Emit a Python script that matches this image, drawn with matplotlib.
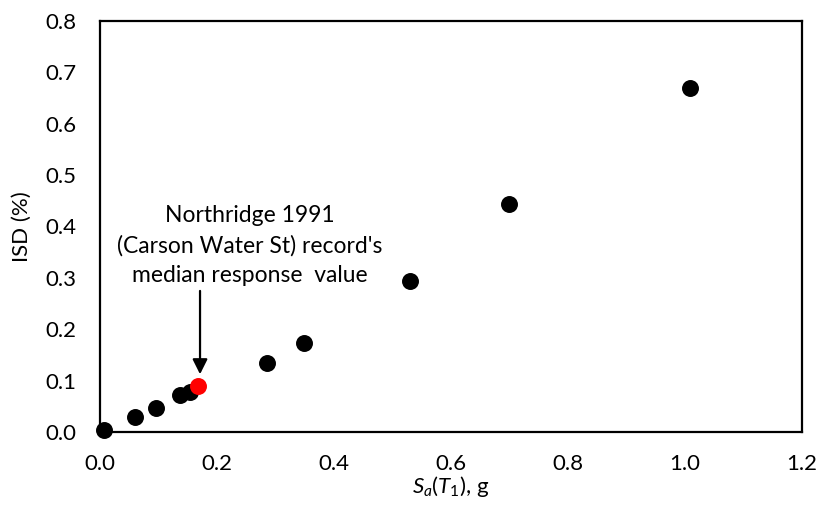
import matplotlib.pyplot as plt

plt.rcParams['font.family'] = ['Lato', 'DejaVu Sans']
plt.rcParams['mathtext.fontset'] = 'custom'
plt.rcParams['mathtext.rm'] = 'Lato'
plt.rcParams['mathtext.it'] = 'Lato:italic'

# Data
sa = [0.006, 0.060, 0.095, 0.136, 0.153, 0.285, 0.348, 0.530, 0.699, 1.009]
isd = [0.003, 0.030, 0.047, 0.072, 0.077, 0.135, 0.174, 0.294, 0.443, 0.669]
median_sa = [0.167]
median_isd = [0.0895]

note = "Northridge 1991\n(Carson Water St) record's\nmedian response  value"

fig = plt.figure(figsize=(8.19, 5.05), dpi=100)
ax = fig.add_axes([0.1221, 0.1446, 0.8571, 0.8138])

ax.scatter(sa, isd, s=125, color='black', zorder=3, clip_on=False)
ax.scatter(median_sa, median_isd, s=125, color='#ff0000', zorder=4)

# Arrow and note
ax.annotate('', xy=(0.171, 0.107), xytext=(0.171, 0.280),
            arrowprops=dict(arrowstyle='-|>,head_length=0.9,head_width=0.45',
                            color='black', lw=1.6))
ax.text(0.256, 0.284, note, ha='center', va='bottom', multialignment='center',
        fontsize=16.5, linespacing=1.5)

ax.set_xlim(0, 1.2)
ax.set_ylim(0, 0.8)
ax.set_xticks([0.0, 0.2, 0.4, 0.6, 0.8, 1.0, 1.2])
ax.set_yticks([0.0, 0.1, 0.2, 0.3, 0.4, 0.5, 0.6, 0.7, 0.8])
ax.xaxis.set_major_formatter(plt.FormatStrFormatter('%.1f'))
ax.yaxis.set_major_formatter(plt.FormatStrFormatter('%.1f'))
ax.tick_params(length=0, labelsize=16)
ax.tick_params(axis='x', pad=16)
ax.tick_params(axis='y', pad=17)

for sp in ax.spines.values():
    sp.set_linewidth(1.6)
    sp.set_color('black')

ax.set_xlabel(r'$\mathit{S_a}(\mathit{T_1})$, g', fontsize=16, labelpad=0)
ax.set_ylabel('ISD (%)', fontsize=16, labelpad=10)

plt.savefig('out.png', dpi=100)
